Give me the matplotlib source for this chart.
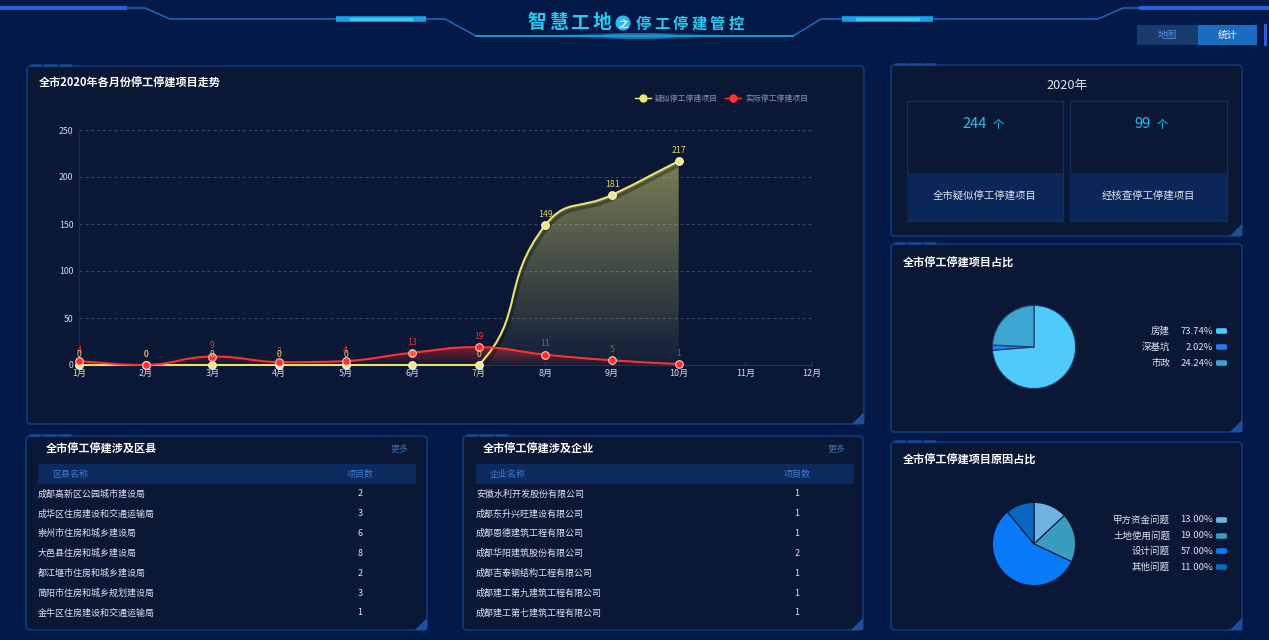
import matplotlib
matplotlib.use("Agg")
import matplotlib.pyplot as plt  # noqa: E402
import numpy as np  # noqa: E402
from matplotlib.path import Path  # noqa: E402
from matplotlib.patches import PathPatch, Rectangle, FancyBboxPatch, Polygon, Circle, Ellipse  # noqa: E402
from matplotlib.transforms import ScaledTranslation  # noqa: E402

plt.rcParams['font.family'] = ['Noto Sans CJK SC', 'DejaVu Sans']

# ---- data ----
months = [f"{i}月" for i in range(1, 13)]
suspected = [0, 0, 0, 0, 0, 0, 0, 149, 181, 217]
actual = [4, 0, 9, 3, 4, 13, 19, 11, 5, 1]
y_ticks = [0, 50, 100, 150, 200, 250]

district_names = ["成都高新区公园城市建设局", "成华区住房建设和交通运输局", "崇州市住房和城乡建设局",
                  "大邑县住房和城乡建设局", "都江堰市住房和城乡建设局", "简阳市住房和城乡规划建设局",
                  "金牛区住房建设和交通运输局"]
district_counts = [2, 3, 6, 8, 2, 3, 1]
company_names = ["安徽水利开发股份有限公司", "成都东升兴旺建设有限公司", "成都恩德建筑工程有限公司",
                 "成都华阳建筑股份有限公司", "成都吉泰钢结构工程有限公司", "成都建工第九建筑工程有限公司",
                 "成都建工第七建筑工程有限公司"]
company_counts = [1, 1, 1, 2, 1, 1, 1]

year_label = "2020年"
suspected_total = 244
checked_total = 99

type_labels = ["房建", "深基坑", "市政"]
type_pcts = [73.74, 2.02, 24.24]
type_colors = ["#4ecbfa", "#2b7be8", "#3ba6d2"]

reason_labels = ["甲方资金问题", "土地使用问题", "设计问题", "其他问题"]
reason_pcts = [13.00, 19.00, 57.00, 11.00]
reason_colors = ["#6cb2e2", "#3b9cc2", "#0a7bf8", "#0a68c2"]

# ---- style ----
W, H = 1269, 640
BG = "#031a48"
PANEL = "#0a1836"
EDGE = "#12387a"
WHITE = "#dde4f0"

fig = plt.figure(figsize=(W / 100, H / 100), dpi=100, facecolor=BG)
bg = fig.add_axes([0, 0, 1, 1], zorder=0)
bg.set_xlim(0, W)
bg.set_ylim(H, 0)
bg.axis("off")


def frac(x0, y0, x1, y1):
    return [x0 / W, 1 - y1 / H, (x1 - x0) / W, (y1 - y0) / H]


def panel(x0, y0, x1, y1):
    bg.add_patch(FancyBboxPatch((x0, y0), x1 - x0, y1 - y0,
                                boxstyle="round,pad=0,rounding_size=4",
                                fc=PANEL, ec=EDGE, lw=1.2))
    bg.add_patch(Polygon([(x1 - 12, y1), (x1, y1 - 12), (x1, y1)],
                         closed=True, fc="#1c4f9e", ec="none"))
    for xa, xb in [(x0 + 4, x0 + 14), (x0 + 17, x0 + 30), (x0 + 33, x0 + 44)]:
        bg.plot([xa, xb], [y0 - 1.2, y0 - 1.2], color="#1b4a92", lw=1.8,
                solid_capstyle="round")


# ---- header decoration ----
bg.plot([0, 125], [8, 8], color="#2b5fd9", lw=3)
bg.plot([125, 145, 170, 445, 476, 793, 821, 1098, 1123, 1141],
        [8, 8, 19, 19, 36, 36, 19, 19, 8, 8], color="#1f66c8", lw=1.1)
bg.plot([1141, W], [8, 8], color="#2b5fd9", lw=3)
for xa, xb in [(336, 426), (842, 933)]:
    bg.plot([xa, xb], [19, 19], color="#1c9fe8", lw=4, solid_capstyle="butt")
    bg.plot([xa + 15, xb - 15], [19, 19], color="#2ed0f4", lw=2.5)
for w, a in [(180, 0.10), (130, 0.18), (80, 0.3)]:
    bg.add_patch(Ellipse((639, 36), w, 6, fc="#3fd6ff", ec="none", alpha=a))
bg.plot([476, 793], [36, 36], color="#1aa6e0", lw=1.1)

title_a = "智慧工地"
for i, ch in enumerate(title_a):
    bg.text(537 + i * 21.5, 23, ch, fontsize=13.5, fontweight="bold", color="#27cbef",
            ha="center", va="center")
bg.add_patch(Circle((623, 23), 7.5, fc="#2fb7f2", ec="none"))
bg.text(623, 23.5, "之", fontsize=7, fontweight="bold", color="white", ha="center", va="center")
title_b = "停工停建管控"
for i, ch in enumerate(title_b):
    bg.text(643 + i * 18.6, 24, ch, fontsize=11, fontweight="bold", color="#27cbef",
            ha="center", va="center")

bg.add_patch(Rectangle((1137, 25), 61, 20, fc="#183b6e", ec="none"))
bg.add_patch(Rectangle((1198, 25), 59, 20, fc="#1a6cc0", ec="none"))
bg.text(1167, 35, "地图", fontsize=7, color="#4f8fd6", ha="center", va="center")
bg.text(1227, 35, "统计", fontsize=7, color="white", ha="center", va="center")
bg.add_patch(Rectangle((1264, 24), 3, 22, fc="#2b5fd9", ec="none"))

# ---- panels ----
panel(27, 66, 864, 424)
panel(26, 436, 427, 630)
panel(463, 436, 863, 630)
panel(891, 65, 1242, 236)
panel(891, 244, 1242, 432)
panel(891, 442, 1242, 630)

# ---- line chart ----
bg.text(39, 83, "全市2020年各月份停工停建项目走势", fontsize=8, fontweight="bold",
        color="white", ha="left", va="center")
for xm, col, label in [(643, "#ede67a", "疑似停工停建项目"), (733, "#ff3333", "实际停工停建项目")]:
    bg.plot([xm - 8, xm + 8], [98, 98], color=col, lw=1)
    bg.plot([xm], [98], "o", ms=5, color=col)
    bg.text(xm + 12, 98, label, fontsize=5.7, color="#8a93a6", ha="left", va="center")

ax = fig.add_axes(frac(79, 130, 812, 365), zorder=2)
ax.set_facecolor("none")
ax.set_xlim(0, 11)
ax.set_ylim(0, 250)


def smooth_path(xs, ys, s=0.5):
    pts = ax.transData.transform(np.column_stack([xs, ys]).astype(float))
    n = len(pts)
    c_in, c_out = [], []
    for i in range(n):
        p = pts[i]
        prev = pts[i - 1] if i > 0 else p
        nxt = pts[i + 1] if i < n - 1 else p
        v = nxt - prev
        d0 = np.hypot(*(p - prev))
        d1 = np.hypot(*(nxt - p))
        r = d1 / (d0 + d1) if d0 + d1 > 0 else 0.5
        o = np.clip(p + v * s * r, np.minimum(p, nxt), np.maximum(p, nxt))
        q = np.clip(p - v * s * (1 - r), np.minimum(p, prev), np.maximum(p, prev))
        c_out.append(o)
        c_in.append(q)
    verts = [pts[0]]
    codes = [Path.MOVETO]
    for i in range(n - 1):
        verts += [c_out[i], c_in[i + 1], pts[i + 1]]
        codes += [Path.CURVE4] * 3
    return ax.transData.inverted().transform(np.array(verts)), codes


def gradient_area(verts, codes, rgb, a_top, a_bot, top, z):
    x_first, x_last = verts[0][0], verts[-1][0]
    av = np.vstack([verts, [[x_last, 0], [x_first, 0], verts[0]]])
    ac = codes + [Path.LINETO, Path.LINETO, Path.CLOSEPOLY]
    patch = PathPatch(Path(av, ac), fc="none", ec="none", transform=ax.transData)
    ax.add_patch(patch)
    grad = np.zeros((256, 1, 4))
    grad[:, 0, :3] = rgb
    grad[:, 0, 3] = np.linspace(a_bot, a_top, 256)
    im = ax.imshow(grad, extent=[x_first, x_last, 0, top], origin="lower",
                   aspect="auto", zorder=z, interpolation="bilinear")
    im.set_clip_path(patch)


xs = np.arange(len(suspected))
shadow = ax.transData + ScaledTranslation(1.2 / 72, -2.5 / 72, fig.dpi_scale_trans)

rv, rc = smooth_path(xs, actual)
gradient_area(rv, rc, (1.0, 0.15, 0.15), 0.45, 0.02, max(actual), 1)
ax.add_patch(PathPatch(Path(rv, rc), fc="none", ec="#ff3030", lw=1.5, zorder=3.5, clip_on=False))

yv, yc = smooth_path(xs, suspected)
gradient_area(yv, yc, (0.92, 0.90, 0.45), 0.5, 0.03, max(suspected), 1.5)
ax.add_patch(PathPatch(Path(yv, yc), fc="none", ec="black", lw=2.5, alpha=0.3,
                       transform=shadow, zorder=2.5))
ax.add_patch(PathPatch(Path(yv, yc), fc="none", ec="#e8e272", lw=1.5, zorder=3, clip_on=False))

ax.plot(xs, suspected, "o", ms=5.5, mfc="#efe68a", mec="#fbf7d8", mew=0.8,
        clip_on=False, zorder=4)
ax.plot(xs, actual, "o", ms=5.5, mfc="#ff2d2d", mec="#ffc4c4", mew=0.8,
        clip_on=False, zorder=4.5)
for x, v in zip(xs, actual):
    ax.annotate(str(v), (x, v), xytext=(0, 4.5), textcoords="offset points",
                ha="center", va="bottom", fontsize=6.3, color="#e0303f", zorder=5)
for x, v in zip(xs, suspected):
    ax.annotate(str(v), (x, v), xytext=(0, 4.5), textcoords="offset points",
                ha="center", va="bottom", fontsize=6.3, color="#d9d375", zorder=5.5)

ax.set_xticks(range(12))
ax.set_xticklabels(months)
ax.set_yticks(y_ticks)
ax.set_yticklabels([str(t) for t in y_ticks])
ax.set_xlim(0, 11)
ax.set_ylim(0, 250)
ax.grid(axis="y", color="#3b4a68", lw=0.7, linestyle=(0, (3, 3)))
ax.set_axisbelow(True)
for side in ["top", "right"]:
    ax.spines[side].set_visible(False)
ax.spines["bottom"].set_color("#2a3350")
ax.spines["left"].set_color("#1e2740")
ax.tick_params(axis="x", colors="#2a3350", direction="in", length=3, pad=3,
               labelcolor="#d2d8e4", labelsize=6.5)
ax.tick_params(axis="y", length=0, pad=4, labelcolor="#d2d8e4", labelsize=6.3)

# ---- tables ----
row_ys = [494 + i * 19.8 for i in range(7)]


def table(px, title, header, hx0, hx1, name_x, count_x, more_x, names, counts):
    bg.text(px, 449, title, fontsize=8, fontweight="bold", color="white", ha="left", va="center")
    bg.text(more_x, 449, "更多", fontsize=6.5, color="#3b6fb0", ha="center", va="center")
    bg.add_patch(Rectangle((hx0, 464), hx1 - hx0, 20, fc="#0c2a5e", ec="none"))
    bg.text(hx0 + 14, 474, header, fontsize=6.5, color="#3d7bd1", ha="left", va="center")
    bg.text(count_x, 474, "项目数", fontsize=6.5, color="#3d7bd1", ha="center", va="center")
    for y, nm, c in zip(row_ys, names, counts):
        bg.text(name_x, y, nm, fontsize=6.5, color=WHITE, ha="left", va="center")
        bg.text(count_x, y, str(c), fontsize=6.5, color=WHITE, ha="center", va="center")


table(46, "全市停工停建涉及区县", "区县名称", 38, 416, 38, 360, 400,
      district_names, district_counts)
table(483, "全市停工停建涉及企业", "企业名称", 476, 854, 476, 797, 837,
      company_names, company_counts)

# ---- summary ----
bg.text(1067, 85, year_label, fontsize=9.2, color=WHITE, ha="center", va="center")
for bx0, bx1, val, lab in [(907, 1063, suspected_total, "全市疑似停工停建项目"),
                           (1070, 1227, checked_total, "经核查停工停建项目")]:
    bg.add_patch(Rectangle((bx0, 101), bx1 - bx0, 120, fc="#0a1836", ec="#10305f", lw=0.8))
    bg.add_patch(Rectangle((bx0, 173), bx1 - bx0, 48, fc="#0b2659", ec="none"))
    cx = (bx0 + bx1) / 2
    bg.text(cx + 2, 124, f"{val}", fontsize=10.6, color="#1ec6f0", ha="right", va="center")
    bg.text(cx + 8, 125, "个", fontsize=8, color="#1ec6f0", ha="left", va="center")
    bg.text(cx, 196, lab, fontsize=7.5, color=WHITE, ha="center", va="center")

# ---- pies ----


def pie_block(title, ty, cy, labels, pcts, colors, leg_ys, edge):
    bg.text(903, ty, title, fontsize=8, fontweight="bold", color="white", ha="left", va="center")
    pax = fig.add_axes(frac(992, cy - 42, 1076, cy + 42), zorder=2)
    pax.pie(pcts, colors=colors, startangle=90, counterclock=False,
            wedgeprops=dict(edgecolor=edge, linewidth=0.8))
    pax.set_xlim(-1.01, 1.01)
    pax.set_ylim(-1.01, 1.01)
    pax.set_aspect("equal")
    for y, lb, p, c in zip(leg_ys, labels, pcts, colors):
        bg.text(1170, y, lb, fontsize=6.8, color=WHITE, ha="right", va="center")
        bg.text(1213, y, f"{p:.2f}%", fontsize=6.8, color=WHITE, ha="right", va="center")
        bg.add_patch(FancyBboxPatch((1216, y - 2.8), 11, 5.6,
                                    boxstyle="round,pad=0,rounding_size=1.5", fc=c, ec="none"))


pie_block("全市停工停建项目占比", 263, 347, type_labels, type_pcts, type_colors,
          [331, 347, 363], "#1d3a66")
pie_block("全市停工停建项目原因占比", 460, 544, reason_labels, reason_pcts, reason_colors,
          [520, 536, 551, 567], "#0b1a3a")

fig.savefig("out.png", dpi=100, facecolor=BG)
